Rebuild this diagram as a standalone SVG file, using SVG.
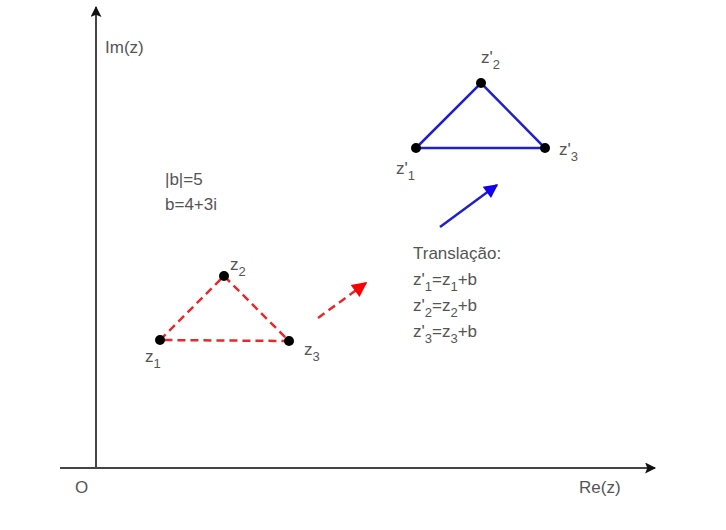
<svg xmlns="http://www.w3.org/2000/svg" width="726" height="530" viewBox="0 0 726 530">
<style>
text{font-family:"Liberation Sans",Arial,sans-serif;font-size:17px;fill:#555}
.s{font-size:13px}
.axis{stroke:#444;stroke-width:2;fill:none}
.red{stroke:#e8282b;stroke-width:2.5;stroke-dasharray:8,5;fill:none}
.blue{stroke:#2020d0;stroke-width:2.5;fill:none}
.pt{fill:#000}
</style>
<defs>
<marker id="ah" viewBox="0 0 10 10" refX="9" refY="5" markerWidth="20" markerHeight="11" markerUnits="userSpaceOnUse" orient="auto"><path d="M0,0L10,5L0,10L2,5z" fill="#111"/></marker>
<marker id="ahr" viewBox="0 0 10 10" refX="9" refY="5" markerWidth="18" markerHeight="15" markerUnits="userSpaceOnUse" orient="auto"><path d="M0,0L10,5L0,10z" fill="#f00"/></marker>
<marker id="ahb" viewBox="0 0 10 10" refX="9" refY="5" markerWidth="17" markerHeight="14" markerUnits="userSpaceOnUse" orient="auto"><path d="M0,0L10,5L0,10z" fill="#10e"/></marker>
</defs>
<rect width="726" height="530" fill="#fff"/>
<g id="connectors">
<path class="axis" d="M96,468V7" marker-end="url(#ah)"/>
<path class="axis" d="M60,468H655" marker-end="url(#ah)"/>
<path class="red" d="M160,340L224,276L289,341Z"/>
<path class="red" d="M318,318L366,283" marker-end="url(#ahr)" stroke-dasharray="12,8"/>
<path class="blue" d="M416,148L481,83L545,148Z"/>
<path class="blue" d="M440,227L497,185" marker-end="url(#ahb)"/>
</g>
<g id="axis-labels">
<text x="105" y="53">Im(z)</text>
<text x="75" y="493">O</text>
<text x="579" y="493">Re(z)</text>
</g>
<g id="info">
<text x="165" y="185">|b|=5</text>
<text x="165" y="210">b=4+3i</text>
</g>
<g id="z1"><circle class="pt" cx="160" cy="340" r="5"/><text x="145" y="362">z<tspan class="s" dy="6">1</tspan></text></g>
<g id="z2"><circle class="pt" cx="224" cy="276" r="5"/><text x="230" y="270">z<tspan class="s" dy="6">2</tspan></text></g>
<g id="z3"><circle class="pt" cx="289" cy="341" r="5"/><text x="304" y="355">z<tspan class="s" dy="6">3</tspan></text></g>
<g id="zp1"><circle class="pt" cx="416" cy="148" r="5"/><text x="396" y="174">z'<tspan class="s" dy="6">1</tspan></text></g>
<g id="zp2"><circle class="pt" cx="481" cy="83" r="5"/><text x="481" y="63">z'<tspan class="s" dy="6">2</tspan></text></g>
<g id="zp3"><circle class="pt" cx="545" cy="148" r="5"/><text x="559" y="155">z'<tspan class="s" dy="6">3</tspan></text></g>
<g id="translation">
<text x="413" y="259">Translação:</text>
<text x="413" y="285">z'<tspan class="s" dy="6">1</tspan><tspan dy="-6">=z</tspan><tspan class="s" dy="6">1</tspan><tspan dy="-6">+b</tspan></text>
<text x="413" y="311">z'<tspan class="s" dy="6">2</tspan><tspan dy="-6">=z</tspan><tspan class="s" dy="6">2</tspan><tspan dy="-6">+b</tspan></text>
<text x="413" y="337">z'<tspan class="s" dy="6">3</tspan><tspan dy="-6">=z</tspan><tspan class="s" dy="6">3</tspan><tspan dy="-6">+b</tspan></text>
</g>
</svg>
